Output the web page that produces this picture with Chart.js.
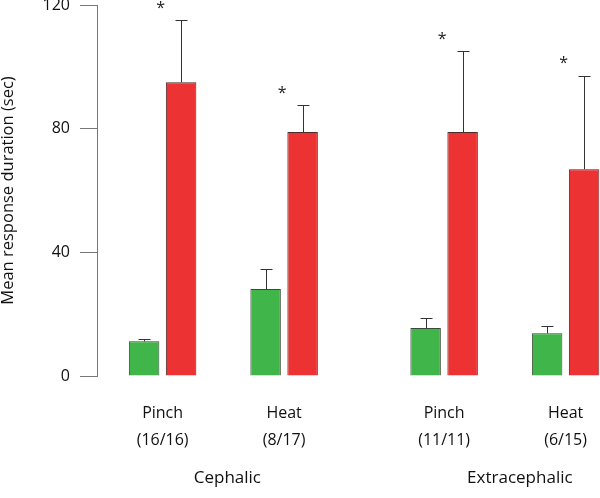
<!DOCTYPE html>
<html>
<head>
<meta charset="utf-8">
<script src="https://cdn.jsdelivr.net/npm/chart.js@4.4.0/dist/chart.umd.min.js"></script>
<style>
  html, body { margin: 0; padding: 0; background: #fff; }
  #wrap { width: 600px; height: 498px; }
</style>
</head>
<body>
<div id="wrap"><canvas id="chart"></canvas></div>
<script>
// stimulus per group, responders ratio, and region
var stimuli = ['Pinch', 'Heat', 'Pinch', 'Heat'];
var ratios = ['(16/16)', '(8/17)', '(11/11)', '(6/15)'];
var regions = ['Cephalic', 'Extracephalic'];

// mean response duration (sec), green = control, red = treated
var controlMeans = [11.2, 28.1, 15.5, 13.8];
var controlErr = [0.7, 6.4, 3.2, 2.5];
var treatedMeans = [95, 78.9, 78.9, 66.9];
var treatedErr = [20, 8.7, 26.1, 30.2];
var significant = [true, true, true, true];

var yTicks = [0, 40, 80, 120];

// x position of each group (gap between the two regions)
var groupPos = stimuli.map(function(s, i) {
    return 0.54 + i + (i >= 2 ? 0.317 : 0);
});

function toPoints(vals) {
    return vals.map(function(v, i) { return { x: groupPos[i], y: v }; });
}

var errorBars = {
    id: 'errorBars',
    afterDatasetsDraw: function(chart) {
        var ctx = chart.ctx;
        var yScale = chart.scales.y;
        var errs = [controlErr, treatedErr];
        ctx.save();
        ctx.strokeStyle = '#333';
        ctx.lineWidth = 1;
        [0, 1].forEach(function(d) {
            var meta = chart.getDatasetMeta(d);
            meta.data.forEach(function(bar, i) {
                var val = chart.data.datasets[d].data[i].y;
                var top = yScale.getPixelForValue(val + errs[d][i]);
                var x = Math.round(bar.x) + 0.5;
                ctx.beginPath();
                ctx.moveTo(x, bar.y);
                ctx.lineTo(x, Math.round(top) + 0.5);
                ctx.moveTo(x - 6, Math.round(top) + 0.5);
                ctx.lineTo(x + 6, Math.round(top) + 0.5);
                ctx.stroke();
            });
        });
        // significance stars
        ctx.fillStyle = '#222';
        ctx.font = '16px "Open Sans", sans-serif';
        ctx.textAlign = 'center';
        ctx.textBaseline = 'middle';
        var xScale = chart.scales.x;
        significant.forEach(function(s, i) {
            if (!s) return;
            var top = yScale.getPixelForValue(treatedMeans[i] + treatedErr[i]);
            ctx.fillText('*', xScale.getPixelForValue(groupPos[i]) - 2, top - 12);
        });
        // region labels
        ctx.fillStyle = '#111';
        ctx.font = '17px "Open Sans", sans-serif';
        ctx.fillText(regions[0], (xScale.getPixelForValue(groupPos[0]) + xScale.getPixelForValue(groupPos[1])) / 2 + 4, 478);
        ctx.fillText(regions[1], (xScale.getPixelForValue(groupPos[2]) + xScale.getPixelForValue(groupPos[3])) / 2 + 15, 478);
        ctx.restore();
    }
};

var config = {
    type: 'bar',
    data: {
        datasets: [{
            label: 'Control',
            data: toPoints(controlMeans),
            backgroundColor: '#40b54a',
            borderColor: '#3a4a3a',
            borderWidth: 1
        }, {
            label: 'Treated',
            data: toPoints(treatedMeans),
            backgroundColor: '#ec3232',
            borderColor: '#4a2a2a',
            borderWidth: 1
        }]
    },
    options: {
        responsive: true,
        maintainAspectRatio: false,
        animation: false,
        categoryPercentage: 0.609,
        barPercentage: 0.824,
        layout: { padding: { top: 5, right: 0, left: 0, bottom: 0 } },
        plugins: {
            legend: { display: false },
            tooltip: { enabled: false }
        },
        scales: {
            x: {
                type: 'linear',
                offset: false,
                min: 0,
                max: 4.14,
                grid: { display: false, drawTicks: false, offset: false },
                border: { display: false },
                afterBuildTicks: function(scale) {
                    scale.ticks = groupPos.map(function(v) { return { value: v }; });
                },
                afterFit: function(scale) {
                    scale.height = 122;
                    scale.paddingLeft = 0;
                    scale.paddingRight = 0;
                },
                ticks: {
                    autoSkip: false,
                    maxRotation: 0,
                    padding: 24,
                    color: '#111',
                    font: { family: 'Open Sans', size: 16, lineHeight: 1.69 },
                    callback: function(value, index) {
                        return [stimuli[index], ratios[index]];
                    }
                }
            },
            y: {
                min: 0,
                max: 120,
                afterBuildTicks: function(scale) {
                    scale.ticks = yTicks.map(function(v) { return { value: v }; });
                },
                afterFit: function(scale) {
                    scale.width = 97;
                    scale.paddingTop = 0;
                    scale.paddingBottom = 0;
                },
                grid: {
                    drawOnChartArea: false,
                    tickLength: 17,
                    color: '#777'
                },
                border: { color: '#777', width: 1 },
                ticks: {
                    padding: 10,
                    color: '#111',
                    font: { family: 'Open Sans', size: 16, lineHeight: 1 }
                },
                title: {
                    display: true,
                    text: 'Mean response duration (sec)',
                    color: '#111',
                    padding: 0,
                    font: { family: 'Open Sans', size: 16.5, lineHeight: 1 }
                }
            }
        }
    },
    plugins: [errorBars]
};

var ctx = document.getElementById('chart');
window.myChart = new Chart(ctx, config);
</script>
</body>
</html>
